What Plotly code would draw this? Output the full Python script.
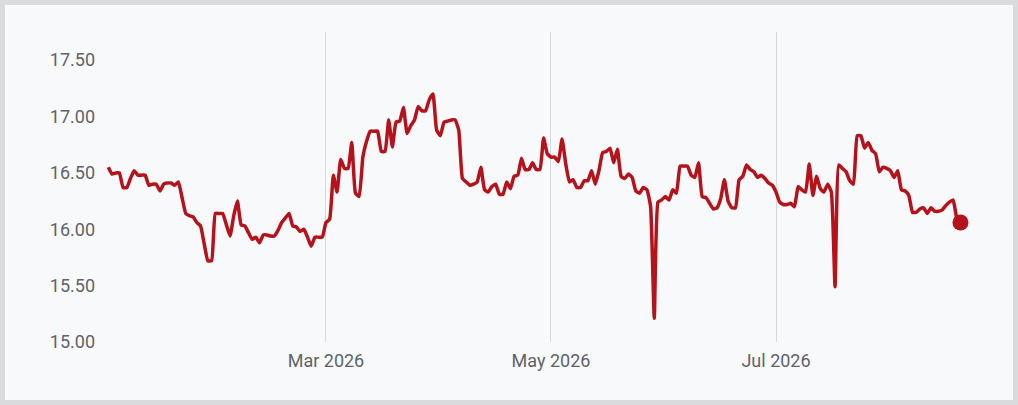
import pandas as pd
import plotly.graph_objects as go

# daily closes, Jan 1 - Aug 20 2026
dates = pd.date_range("2026-01-01", "2026-08-20", freq="D")
values = [
    16.55, 16.49, 16.50, 16.50, 16.37, 16.37, 16.45, 16.52, 16.48, 16.48,  # 0
    16.48, 16.39, 16.40, 16.40, 16.34, 16.40, 16.41, 16.41, 16.39, 16.42,  # 10
    16.28, 16.14, 16.12, 16.11, 16.06, 16.03, 15.87, 15.72, 15.72, 16.14,  # 20
    16.14, 16.14, 16.04, 15.94, 16.12, 16.25, 16.04, 16.03, 15.97, 15.91,  # 30
    15.93, 15.88, 15.95, 15.95, 15.94, 15.94, 15.99, 16.06, 16.10, 16.14,  # 40
    16.03, 16.02, 15.98, 16.00, 15.93, 15.85, 15.93, 15.93, 15.93, 16.06,  # 50
    16.09, 16.48, 16.33, 16.62, 16.54, 16.54, 16.77, 16.32, 16.29, 16.64,  # 60
    16.78, 16.87, 16.87, 16.87, 16.69, 16.69, 16.97, 16.73, 16.95, 16.96,  # 70
    17.08, 16.85, 16.92, 16.97, 17.09, 17.05, 17.05, 17.15, 17.20, 16.88,  # 80
    16.83, 16.95, 16.96, 16.97, 16.97, 16.88, 16.45, 16.42, 16.39, 16.40,  # 90
    16.42, 16.55, 16.35, 16.33, 16.38, 16.40, 16.31, 16.31, 16.42, 16.36,  # 100
    16.47, 16.48, 16.63, 16.53, 16.53, 16.59, 16.53, 16.53, 16.81, 16.67,  # 110
    16.64, 16.64, 16.60, 16.80, 16.58, 16.42, 16.44, 16.37, 16.37, 16.43,  # 120
    16.43, 16.52, 16.40, 16.52, 16.68, 16.69, 16.72, 16.59, 16.71, 16.47,  # 130
    16.45, 16.49, 16.46, 16.34, 16.32, 16.37, 16.35, 16.20, 15.21, 16.24,  # 140
    16.26, 16.29, 16.26, 16.35, 16.32, 16.56, 16.56, 16.56, 16.48, 16.46,  # 150
    16.59, 16.29, 16.28, 16.23, 16.18, 16.19, 16.27, 16.44, 16.25, 16.19,  # 160
    16.19, 16.44, 16.47, 16.57, 16.53, 16.51, 16.46, 16.48, 16.45, 16.41,  # 170
    16.39, 16.33, 16.24, 16.22, 16.22, 16.23, 16.20, 16.38, 16.35, 16.33,  # 180
    16.58, 16.30, 16.47, 16.36, 16.33, 16.40, 16.33, 15.49, 16.57, 16.54,  # 190
    16.51, 16.43, 16.40, 16.83, 16.83, 16.72, 16.77, 16.70, 16.67, 16.51,  # 200
    16.55, 16.54, 16.52, 16.46, 16.52, 16.35, 16.34, 16.30, 16.15, 16.15,  # 210
    16.18, 16.19, 16.14, 16.19, 16.16, 16.16, 16.17, 16.21, 16.24, 16.26,  # 220
    16.10, 16.06,  # 230
]
x_ticks = ["2026-03-01", "2026-05-01", "2026-07-01"]

red = "#b5121b"
grey_txt = "#5f6368"

fig = go.Figure()
fig.add_trace(go.Scatter(x=dates, y=values, mode="lines",
                         line=dict(color=red, width=3.5, shape="spline", smoothing=0.4),
                         hoverinfo="skip"))
# dot on the last value
fig.add_trace(go.Scatter(x=[dates[-1]], y=[values[-1]], mode="markers",
                         marker=dict(color=red, size=16), hoverinfo="skip"))

# grey frame round the card
fig.add_shape(type="rect", xref="paper", yref="paper",
              x0=-0.108, x1=1.0375, y0=-0.187, y1=1.087,
              fillcolor="#f8f9fa", line_width=0, layer="below")

fig.update_layout(
    width=1018, height=405,
    margin=dict(l=100, r=38, t=32, b=63),
    paper_bgcolor="#dadbdd",
    plot_bgcolor="rgba(0,0,0,0)",
    showlegend=False,
    font=dict(family="Roboto, sans-serif", size=18, color=grey_txt),
)
fig.update_xaxes(
    range=["2025-12-29 18:00", "2026-08-25 07:00"],
    tickvals=x_ticks, tickformat="%b %Y",
    showgrid=True, gridcolor="#d6d8db", gridwidth=1,
    showline=False, zeroline=False, ticks="",
    ticklabelstandoff=6,
)
fig.update_yaxes(
    range=[15.0, 17.75], dtick=0.5, tick0=15.0, tickformat=".2f",
    showgrid=False, showline=False, zeroline=False, ticks="",
    ticklabelstandoff=4,
)

# no body margin so the card fills the window
fig.write_html("out.html", config={"displayModeBar": False},
               post_script="document.body.style.margin='0';document.body.style.overflow='hidden';")
